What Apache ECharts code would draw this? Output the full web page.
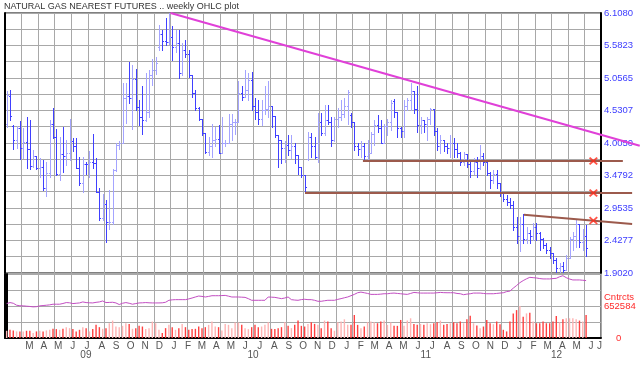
<!DOCTYPE html>
<html><head><meta charset="utf-8">
<script src="https://cdn.jsdelivr.net/npm/echarts@6/dist/echarts.min.js"></script>
<style>html,body{margin:0;padding:0;background:#fff}#c{width:640px;height:365px}</style>
</head><body><div id="c"></div>
<script>
// ---------- data ----------
const titleText = 'NATURAL GAS NEAREST FUTURES .. weekly OHLC plot';
const firstWeekEnd = '2009-01-30';   // week ending date of first bar
const weekCount = 180;               // weeks shown on the axis (last ones empty)
const monthLabelStart = [2009, 2];   // first month that carries a label (March 2009)

const opens = [
4.32,4.77,4.28,4.06,4.25,3.93,4.02,3.90,3.63,3.79,
3.60,3.62,3.28,3.52,4.31,4.10,3.50,3.82,3.80,3.85,
4.04,3.95,3.60,3.35,3.67,3.66,3.69,3.68,3.22,2.79,
3.02,2.72,2.73,3.57,3.97,4.00,4.74,4.77,4.74,5.04,
4.58,4.43,4.38,4.51,5.10,5.18,5.55,5.77,5.65,5.64,
5.72,5.56,5.62,5.13,5.51,5.45,5.10,4.81,4.57,4.40,
4.16,3.86,3.95,4.06,4.07,3.85,4.00,4.00,4.32,4.35,
4.35,4.81,4.75,4.86,5.02,4.60,4.51,4.40,4.54,4.55,
4.60,4.44,4.13,4.05,3.92,3.98,3.89,3.95,3.81,3.62,
3.49,3.75,4.10,3.95,3.78,4.35,4.16,4.38,4.35,4.05,
4.40,4.42,4.48,4.60,4.45,4.35,3.95,3.90,3.95,3.80,
3.85,4.15,4.30,4.25,4.00,4.28,4.35,4.68,4.50,4.25,
4.20,4.60,4.70,4.85,4.55,4.30,4.38,4.32,4.40,4.55,
4.20,3.95,4.05,3.95,3.92,4.00,3.90,3.85,3.70,3.82,
3.66,3.55,3.70,3.60,3.80,3.70,3.52,3.40,3.50,3.35,
3.20,3.10,3.05,3.00,2.65,2.50,2.70,2.45,2.55,2.50,
2.65,2.55,2.45,2.35,2.28,2.22,2.12,1.98,2.02,1.95,
2.15,2.45,2.50,2.70,2.40,2.50];
const highs = [
4.84,4.87,4.30,4.28,4.36,4.24,4.42,4.38,3.89,3.80,
3.77,3.73,3.70,4.38,4.57,4.23,4.11,4.27,4.05,4.39,
4.08,4.09,3.78,3.78,3.70,3.88,4.15,3.77,3.27,3.18,
3.08,3.25,3.58,4.01,4.03,4.97,4.97,5.31,5.26,5.20,
4.70,4.93,5.13,5.19,5.37,5.40,5.91,5.83,6.02,6.108,
5.89,5.83,5.83,5.62,5.67,5.51,5.10,4.86,4.59,4.40,
4.16,4.11,4.32,4.26,4.30,4.43,4.05,4.48,4.48,4.40,
5.00,4.92,5.19,5.13,5.16,4.73,4.70,4.70,4.92,5.01,
4.60,4.44,4.13,4.05,4.03,4.13,4.13,4.00,3.81,3.62,
3.49,4.19,4.16,4.11,4.49,4.49,4.62,4.62,4.43,4.43,
4.57,4.70,4.73,4.87,4.49,4.35,4.00,4.03,4.00,4.05,
4.19,4.38,4.46,4.38,4.32,4.40,4.70,4.72,4.50,4.27,
4.70,4.73,4.98,4.85,4.92,4.43,4.38,4.43,4.57,4.55,
4.24,4.13,4.05,4.00,4.13,4.08,4.00,3.86,3.86,3.82,
3.73,3.76,3.78,3.97,3.85,3.70,3.54,3.57,3.57,3.35,
3.22,3.16,3.11,3.06,2.81,2.81,2.86,2.65,2.60,2.71,
2.71,2.57,2.47,2.38,2.33,2.22,2.14,2.06,2.08,2.19,
2.49,2.57,2.78,2.70,2.62,2.68];
const lows = [
4.27,4.37,3.90,3.92,3.74,3.76,3.60,3.58,3.62,3.58,
3.46,3.25,3.14,3.46,4.08,3.49,3.40,3.54,3.65,3.73,
3.87,3.60,3.33,3.22,3.51,3.46,3.60,3.22,2.76,2.76,
2.40,2.62,2.70,3.55,3.90,4.00,4.33,4.65,4.23,4.54,
4.30,4.15,4.36,4.43,4.95,5.12,5.51,5.51,5.59,5.60,
5.35,5.48,5.05,5.10,5.40,5.08,4.75,4.54,4.38,4.14,
3.84,3.81,3.78,3.95,3.84,3.84,3.95,4.00,4.05,4.15,
4.35,4.70,4.75,4.70,4.54,4.40,4.32,4.30,4.48,4.43,
4.27,4.11,3.62,3.68,3.70,3.81,3.76,3.68,3.51,3.46,
3.20,3.73,3.78,3.76,3.70,4.14,4.14,4.32,3.95,4.03,
4.27,4.38,4.43,4.32,4.27,3.89,3.81,3.78,3.72,3.73,
3.84,3.97,4.19,4.00,4.00,4.13,4.22,4.43,4.11,4.11,
4.11,4.54,4.54,4.49,4.19,4.16,4.19,4.05,4.32,4.13,
3.89,3.84,3.87,3.84,3.78,3.78,3.78,3.65,3.65,3.62,
3.46,3.50,3.46,3.58,3.65,3.49,3.27,3.35,3.27,3.14,
3.06,3.00,2.95,2.60,2.38,2.25,2.38,2.38,2.38,2.44,
2.44,2.27,2.30,2.22,2.14,2.06,1.92,1.91,1.902,1.95,
2.14,2.27,2.33,2.33,2.27,2.17];
const closes = [
4.78,4.44,4.06,4.25,3.93,4.02,3.90,3.63,3.79,3.60,
3.62,3.28,3.52,4.31,4.10,3.50,3.82,3.80,3.85,4.04,
3.95,3.60,3.35,3.67,3.66,3.69,3.68,3.22,2.79,3.02,
2.72,2.73,3.57,3.97,4.00,4.74,4.77,4.74,5.04,4.58,
4.43,4.38,4.51,5.10,5.18,5.30,5.77,5.65,5.64,5.72,
5.56,5.62,5.13,5.51,5.45,5.10,4.81,4.57,4.40,4.16,
3.86,3.95,4.06,4.07,3.85,4.00,4.00,4.32,4.35,4.35,
4.81,4.75,4.86,5.02,4.60,4.51,4.40,4.54,4.55,4.60,
4.44,4.13,4.05,3.92,3.98,3.89,3.95,3.81,3.62,3.49,
3.30,4.10,3.95,3.78,4.35,4.16,4.38,4.35,4.05,4.40,
4.42,4.48,4.60,4.83,4.35,3.95,3.90,3.95,3.80,3.85,
4.15,4.30,4.25,4.00,4.28,4.35,4.65,4.50,4.25,4.20,
4.60,4.70,4.85,4.55,4.30,4.38,4.32,4.40,4.55,4.20,
3.95,4.05,3.95,3.92,4.00,3.90,3.85,3.70,3.82,3.66,
3.55,3.70,3.60,3.80,3.70,3.52,3.40,3.50,3.35,3.20,
3.10,3.05,3.00,2.65,2.50,2.70,2.45,2.55,2.50,2.65,
2.55,2.45,2.35,2.28,2.22,2.12,1.98,2.02,1.95,2.15,
2.45,2.50,2.70,2.40,2.50,2.30];
// weekly volume, contracts
const volumes = [
147000,167000,154000,134000,134000,134000,147000,147000,100000,134000,
147000,134000,154000,167000,187000,181000,167000,187000,221000,201000,
181000,134000,167000,221000,201000,134000,181000,268000,221000,187000,
201000,301000,355000,234000,221000,248000,301000,288000,187000,201000,
248000,234000,181000,201000,335000,301000,167000,100000,201000,268000,
221000,167000,201000,288000,221000,167000,181000,187000,234000,201000,
221000,268000,335000,234000,221000,154000,288000,268000,201000,315000,
315000,268000,201000,181000,221000,268000,221000,234000,268000,321000,
187000,181000,201000,221000,321000,248000,201000,268000,355000,248000,
234000,288000,321000,288000,268000,201000,355000,335000,201000,147000,
321000,335000,381000,268000,268000,469000,268000,201000,234000,321000,
335000,321000,301000,335000,355000,268000,315000,248000,248000,368000,
248000,355000,402000,288000,268000,288000,268000,301000,281000,301000,
321000,355000,268000,288000,301000,321000,301000,335000,301000,381000,
455000,301000,254000,201000,234000,368000,301000,281000,335000,281000,
167000,134000,335000,502000,569000,652584,435000,502000,515000,335000,
301000,301000,335000,301000,301000,335000,448000,321000,381000,402000,
402000,402000,381000,355000,335000,469000];
// open interest, thousand contracts
const openInterestK = [
753,775,760,717,705,703,696,690,681,685,
703,710,717,725,739,739,739,755,775,770,
753,760,767,789,775,770,767,780,789,810,
775,778,782,767,732,760,775,760,739,753,
767,770,775,770,767,767,767,770,782,825,
835,839,839,839,839,855,875,897,918,910,
897,910,925,925,925,928,932,915,897,897,
897,893,889,860,825,825,825,825,825,897,
893,889,875,861,875,897,839,830,825,840,
847,839,839,825,803,803,815,825,825,825,
845,861,880,897,925,954,990,1004,990,975,
954,954,954,960,968,968,978,983,975,968,
960,954,975,997,990,983,983,983,983,983,
990,997,992,990,990,990,975,968,947,960,
968,983,983,983,975,968,968,968,975,983,
990,1015,1026,1090,1148,1210,1256,1295,1327,1320,
1313,1300,1292,1292,1292,1300,1306,1340,1363,1320,
1290,1270,1270,1270,1263,1256];

const priceMin = 1.902, priceMax = 6.108;
const priceLabels = ['1.9020','2.4277','2.9535','3.4792','4.0050','4.5307','5.0565','5.5823','6.1080'];
const priceGrid = [1.9020,2.1649,2.4277,2.6906,2.9535,3.2164,3.4792,3.7421,4.0050,
                   4.2679,4.5307,4.7936,5.0565,5.3194,5.5823,5.8451,6.1080];
const volumeMax = 1305168;
const volumeLabel = 652584;
const oiMaxK = 1400;

// annotation lines: [week index, price]
const trendPeakLine = [[49.5, 6.108], [191.2, 3.96]];
const supportLine1 = [[107.6, 3.714], [186.1, 3.714]];
const supportLine2 = [[90.1, 3.196], [188.9, 3.196]];
const channelLine = [[156.2, 2.845], [188.9, 2.695]];
const crossMarks = [[177.2, 3.714], [177.2, 3.196], [177.2, 2.75]];

// ---------- styling / layout ----------
const FONT = 'Liberation Sans, Arial, sans-serif';
const DARK_BLUE = '#4040ff', LIGHT_BLUE = '#a4a4ff';
const DARK_RED = '#ff4040', LIGHT_RED = '#ffb4b4';
const GRID_COL = '#a8a8a8';
const PLOT_L = 5, PLOT_R = 39, MAIN_TOP = 13, MAIN_H = 260, LOW_TOP = 274, LOW_H = 64;
const W = 640, H = 365;

// ---------- derived ----------
const DAY = 864e5;
const fw = firstWeekEnd.split('-').map(Number);
const t0 = Date.UTC(fw[0], fw[1]-1, fw[2]) - 2.5*DAY; // centre of first weekly bar
const weekDates = [];
for (let i = 0; i < weekCount; i++) {
  const d = new Date(Date.UTC(fw[0], fw[1]-1, fw[2]) + i*7*DAY);
  weekDates.push(d.toISOString().slice(0,10));
}
const toIdx = t => (t - t0) / (7*DAY);
const leftT = t0 - 3.5*DAY, rightT = t0 + (weekCount - 0.5)*7*DAY;
const MONTHS = 'JFMAMJJASOND';
const monthPos = [], monthTxt = {};
for (let y = monthLabelStart[0], m = monthLabelStart[1]; Date.UTC(y, m, 1) < rightT; ) {
  const s = Math.max(Date.UTC(y, m, 1), leftT), e = Math.min(Date.UTC(y, m+1, 1), rightT);
  const c = +((toIdx(s) + toIdx(e)) / 2).toFixed(3);
  monthPos.push(c); monthTxt[c] = MONTHS[m];
  m++; if (m > 11) { m = 0; y++; }
}
const yearPos = [], yearTxt = {};
for (let y = fw[0]; Date.UTC(y, 0, 1) < rightT; y++) {
  const s = Math.max(Date.UTC(y, 0, 1), leftT), e = Math.min(Date.UTC(y+1, 0, 1), rightT);
  const c = +((toIdx(s) + toIdx(e)) / 2).toFixed(3);
  yearPos.push(c); yearTxt[c] = String(y).slice(2);
}
const priceLabelVals = priceLabels.map(Number);
function priceLabelFor(v) {
  let best = '', bd = 1e9;
  priceLabelVals.forEach((p, i) => { const d = Math.abs(p - v); if (d < bd) { bd = d; best = priceLabels[i]; } });
  return bd < 1e-3 ? best : '';
}
function nearestTxt(map, v) {
  let best = '', bd = 1e9;
  Object.keys(map).forEach(k => { const d = Math.abs(+k - v); if (d < bd) { bd = d; best = map[k]; } });
  return bd < 0.01 ? best : '';
}

const ohlcData = opens.map((o, i) => [i, o, highs[i], lows[i], closes[i]]);
const volData = volumes.map((v, i) => ({ value: v, itemStyle: { color: closes[i] < opens[i] ? DARK_RED : LIGHT_RED } }));
const overlayMax = -0.5 + (W - PLOT_L) / ((W - PLOT_L - PLOT_R) / weekCount);

function renderOHLC(params, api) {
  const i = api.value(0), o = api.value(1), h = api.value(2), l = api.value(3), c = api.value(4);
  const pt = api.coord([i, h]), pb = api.coord([i, l]), po = api.coord([i, o]), pc = api.coord([i, c]);
  const x = Math.round(pt[0]) + 0.5;
  const col = c < o ? DARK_BLUE : LIGHT_BLUE;
  const r = v => Math.round(v) + 0.5;
  const st = { stroke: col, lineWidth: 1 };
  return { type: 'group', children: [
    { type: 'line', shape: { x1: x, y1: Math.round(pt[1]), x2: x, y2: Math.round(pb[1]) + 1 }, style: st },
    { type: 'line', shape: { x1: x - 1.5, y1: r(po[1]), x2: x, y2: r(po[1]) }, style: st },
    { type: 'line', shape: { x1: x, y1: r(pc[1]), x2: x + 1.5, y2: r(pc[1]) }, style: st }
  ]};
}

const chart = echarts.init(document.getElementById('c'), null, { renderer: 'canvas' });
chart.setOption({
  animation: false,
  backgroundColor: '#fff',
  title: { text: titleText, left: 4, top: 2, padding: 0,
    textStyle: { fontSize: 9, fontWeight: 'normal', color: '#333', fontFamily: FONT } },
  grid: [
    { left: PLOT_L, right: PLOT_R, top: MAIN_TOP, height: MAIN_H, show: true, borderColor: '#000', borderWidth: 1, backgroundColor: 'transparent', outerBoundsMode: 'none' },
    { left: PLOT_L, right: PLOT_R, top: LOW_TOP, height: LOW_H, show: true, borderColor: '#000', borderWidth: 1, backgroundColor: 'transparent', outerBoundsMode: 'none' },
    { left: PLOT_L, right: 0, top: MAIN_TOP, height: MAIN_H, show: false, outerBoundsMode: 'none' }
  ],
  xAxis: [
    { type: 'category', gridIndex: 0, data: weekDates, boundaryGap: true,
      axisLine: { show: false }, axisTick: { show: false }, axisLabel: { show: false },
      splitLine: { show: true, interval: 4, lineStyle: { color: GRID_COL, width: 1 } } },
    { type: 'category', gridIndex: 1, data: weekDates, boundaryGap: true,
      axisLine: { show: true, lineStyle: { color: '#000', width: 2 } }, axisTick: { show: false }, axisLabel: { show: false },
      splitLine: { show: true, interval: 4, lineStyle: { color: GRID_COL, width: 1 } } },
    { type: 'value', gridIndex: 1, min: -0.5, max: weekCount - 0.5, position: 'bottom',
      axisLine: { show: false }, axisTick: { show: false }, splitLine: { show: false },
      axisLabel: { customValues: monthPos, formatter: v => nearestTxt(monthTxt, v), margin: 3,
        color: '#555', fontSize: 10, fontFamily: FONT, hideOverlap: false, showMinLabel: true, showMaxLabel: true } },
    { type: 'value', gridIndex: 1, min: -0.5, max: weekCount - 0.5, position: 'bottom', offset: 9,
      axisLine: { show: false }, axisTick: { show: false }, splitLine: { show: false },
      axisLabel: { customValues: yearPos, formatter: v => nearestTxt(yearTxt, v), margin: 3,
        color: '#555', fontSize: 10, fontFamily: FONT } },
    { type: 'value', gridIndex: 2, min: -0.5, max: overlayMax, show: false }
  ],
  yAxis: [
    { type: 'value', gridIndex: 0, position: 'right', min: priceMin, max: priceMax,
      axisLine: { show: true, lineStyle: { color: '#000', width: 2 } },
      axisTick: { show: false, customValues: priceGrid },
      splitLine: { show: true, lineStyle: { color: GRID_COL, width: 1 } },
      axisLabel: { customValues: priceLabelVals, formatter: v => priceLabelFor(v), margin: 3,
        color: '#3c3cff', fontSize: 9.5, fontFamily: FONT } },
    { type: 'value', gridIndex: 1, position: 'right', min: 0, max: volumeMax, interval: volumeMax / 4,
      axisLine: { show: true, lineStyle: { color: '#000', width: 2 } },
      axisTick: { show: false },
      splitLine: { show: true, lineStyle: { color: GRID_COL, width: 1 } },
      axisLabel: { margin: 3, showMinLabel: true,
        formatter: v => v === volumeLabel ? '{t|Cntrcts}\n{t|' + volumeLabel + '}\n{t| }' : (v === 0 ? '{z|0}' : ''),
        rich: { t: { color: '#ff2a2a', fontSize: 9.5, lineHeight: 9, fontFamily: FONT },
                z: { color: '#ff2a2a', fontSize: 9.5, fontFamily: FONT, padding: [0, 0, 0, 12] } } } },
    { type: 'value', gridIndex: 1, min: 0, max: oiMaxK, show: false },
    { type: 'value', gridIndex: 2, min: priceMin, max: priceMax, show: false },
    { type: 'value', gridIndex: 0, position: 'left', min: priceMin, max: priceMax,
      axisLine: { show: true, lineStyle: { color: '#000', width: 2 } }, axisTick: { show: false },
      axisLabel: { show: false }, splitLine: { show: false } },
    { type: 'value', gridIndex: 1, position: 'left', min: 0, max: 1,
      axisLine: { show: true, lineStyle: { color: '#000', width: 2 } }, axisTick: { show: false },
      axisLabel: { show: false }, splitLine: { show: false } }
  ],
  series: [
    { type: 'custom', name: 'ohlc', xAxisIndex: 0, yAxisIndex: 0, data: ohlcData,
      encode: { x: 0, y: [1, 2, 3, 4] }, renderItem: renderOHLC, silent: true, clip: true },
    { type: 'bar', name: 'volume', xAxisIndex: 1, yAxisIndex: 1, data: volData, barWidth: 1.4, silent: true },
    { type: 'line', name: 'oi', xAxisIndex: 1, yAxisIndex: 2, data: openInterestK, symbol: 'none', silent: true,
      lineStyle: { color: '#c24ec2', width: 1 } },
    { type: 'line', xAxisIndex: 4, yAxisIndex: 3, data: trendPeakLine, symbol: 'none', silent: true,
      lineStyle: { color: '#e040d8', width: 2 }, z: 5 },
    { type: 'line', xAxisIndex: 4, yAxisIndex: 3, data: supportLine1, symbol: 'none', silent: true,
      lineStyle: { color: '#9c5a4c', width: 2 }, z: 5 },
    { type: 'line', xAxisIndex: 4, yAxisIndex: 3, data: supportLine2, symbol: 'none', silent: true,
      lineStyle: { color: '#9c5a4c', width: 2 }, z: 5 },
    { type: 'line', xAxisIndex: 4, yAxisIndex: 3, data: channelLine, symbol: 'none', silent: true,
      lineStyle: { color: '#9c5a4c', width: 2 }, z: 5 },
    { type: 'scatter', xAxisIndex: 4, yAxisIndex: 3, data: crossMarks, silent: true, z: 6,
      symbol: 'path://M0,1.5 L1.5,0 L5,3.5 L8.5,0 L10,1.5 L6.5,5 L10,8.5 L8.5,10 L5,6.5 L1.5,10 L0,8.5 L3.5,5 Z',
      symbolSize: [9, 8], itemStyle: { color: '#ff2a1a' } }
  ]
});
</script></body></html>
